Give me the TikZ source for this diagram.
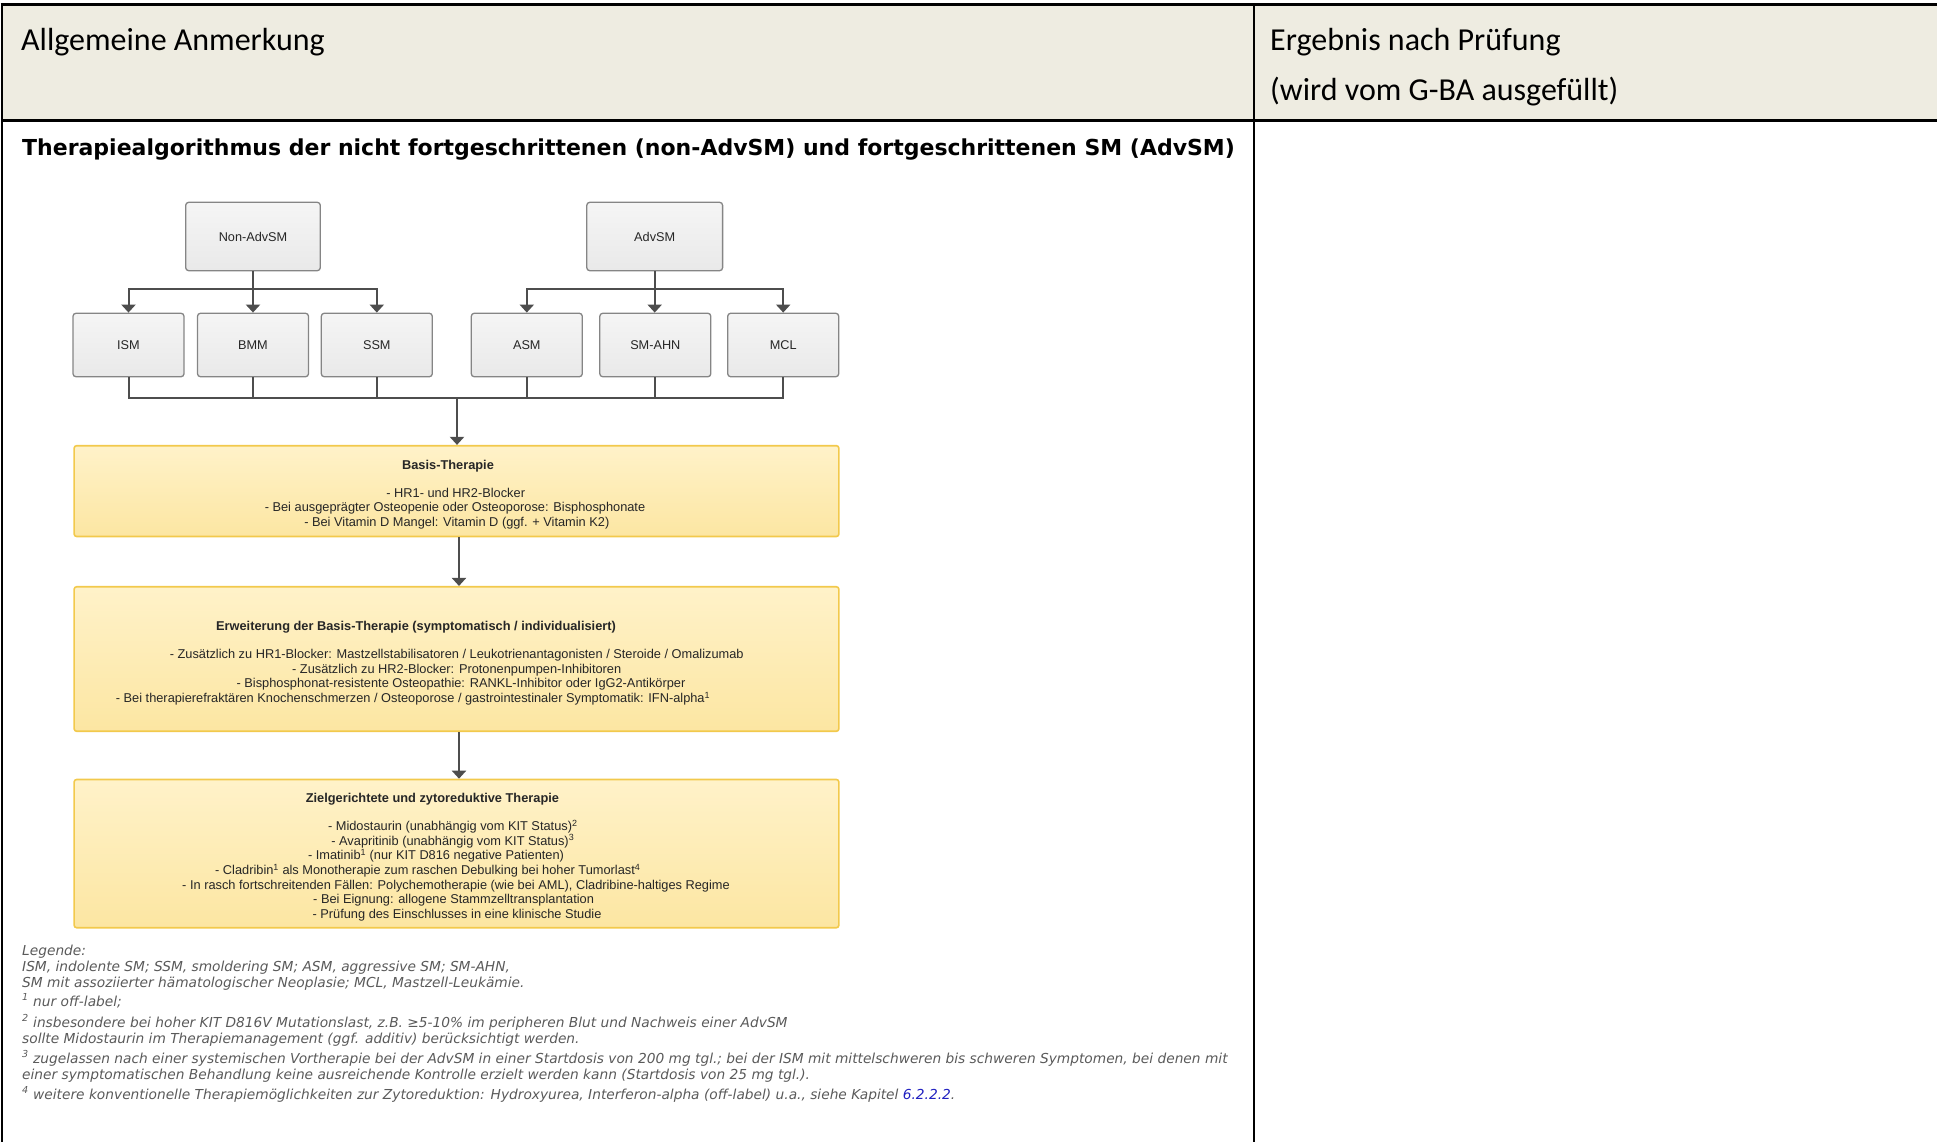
\documentclass[tikz,border=0pt]{standalone}
\usepackage{fontspec}
\setmainfont{Carlito}
\newfontfamily\arialf{Liberation Sans}
\newfontfamily\dvs{DejaVu Sans}
\usetikzlibrary{arrows.meta}
\definecolor{hdr}{HTML}{EEECE1}
\definecolor{gborder}{HTML}{858585}
\definecolor{gtop}{HTML}{F5F5F5}
\definecolor{gbot}{HTML}{E9E9E9}
\definecolor{yborder}{HTML}{F2C94C}
\definecolor{ytop}{HTML}{FFF2C9}
\definecolor{ybot}{HTML}{FCE6A2}
\definecolor{cline}{HTML}{4D4D4D}
\definecolor{txtdark}{HTML}{262626}
\definecolor{leggray}{HTML}{5A5A5A}
\definecolor{linkblue}{HTML}{2020C0}
\tikzset{
 gbox/.style={draw=gborder, line width=1.3pt, rounded corners=3pt, top color=gtop, bottom color=gbot, minimum width=111pt, minimum height=63.5pt, inner sep=0pt, font=\arialf\fontsize{12.7}{15}\selectfont, text=txtdark},
 ybox/.style={draw=yborder, line width=1.6pt, rounded corners=2.5pt, top color=ytop, bottom color=ybot, minimum width=764.7pt, inner sep=0pt},
 conn/.style={draw=cline, line width=2pt, -{Triangle[width=14pt,length=8pt]}},
 busline/.style={draw=cline, line width=2pt},
 ftxt/.style={font=\arialf\fontsize{12.8}{15}\selectfont, text=txtdark, anchor=base, inner sep=0pt},
 fttl/.style={ftxt, font=\arialf\bfseries\fontsize{12.8}{15}\selectfont},
 legtxt/.style={font=\dvs\itshape\fontsize{13.75}{16}\selectfont, text=leggray, anchor=base west, inner sep=0pt},
 hdrtxt/.style={font=\fontsize{32}{38}\selectfont, text=black, anchor=base west, inner sep=0pt},
}
\begin{document}
\begin{tikzpicture}[x=1pt,y=-1pt]
\useasboundingbox (0,0) rectangle (1937,1142);
% table
\fill[hdr] (2,4.5) rectangle (1937,120.5);
\draw[line width=3pt] (0.5,4.5) -- (1937,4.5);
\draw[line width=3pt] (2,120.5) -- (1937,120.5);
\draw[line width=2.5pt] (2,3) -- (2,1142);
\draw[line width=1.5pt] (1254,4.5) -- (1254,1142);
\node[hdrtxt] (h1) at (21,50.5) {Allgemeine Anmerkung};
\node[hdrtxt] (h2) at (1270,51) {Ergebnis nach Prüfung};
\node[hdrtxt] (h3) at (1270,101) {(wird vom G-BA ausgefüllt)};
\node[font=\dvs\bfseries\fontsize{22}{26}\selectfont, anchor=base west, inner sep=0pt] (title) at (22,156) {Therapiealgorithmus der nicht fortgeschrittenen (non-AdvSM) und fortgeschrittenen SM (AdvSM)};
% top boxes
\node[gbox, minimum width=134.6pt, minimum height=68.4pt] (nonadv) at (253,236.5) {Non-AdvSM};
\node[gbox, minimum width=135.8pt, minimum height=68.4pt] (adv) at (654.7,236.5) {AdvSM};
\node[gbox] (ism) at (128.5,345) {ISM};
\node[gbox] (bmm) at (253,345) {BMM};
\node[gbox] (ssm) at (376.8,345) {SSM};
\node[gbox] (asm) at (526.8,345) {ASM};
\node[gbox] (smahn) at (655.3,345) {SM-AHN};
\node[gbox] (mcl) at (783.2,345) {MCL};
\coordinate (nb) at (253,288.5);
\coordinate (ab) at (654.7,288.5);
\draw[conn] (nonadv.south) -- (bmm.north);
\draw[conn] (nb) -| (ism.north);
\draw[conn] (nb) -| (ssm.north);
\draw[conn] (adv.south) -- (adv.south |- smahn.north);
\draw[conn] (ab) -| (asm.north);
\draw[conn] (ab) -| (mcl.north);
% bus
\coordinate (bus) at (457,397.8);
\draw[busline] (ism.south) |- (mcl.south |- bus) -- (mcl.south);
\draw[busline] (bmm.south) -- (bmm.south |- bus);
\draw[busline] (ssm.south) -- (ssm.south |- bus);
\draw[busline] (asm.south) -- (asm.south |- bus);
\draw[busline] (smahn.south) -- (smahn.south |- bus);
% yellow boxes
\node[ybox, minimum height=90.8pt] (basis) at (456.5,491.1) {};
\node[ybox, minimum height=144.5pt] (erw) at (456.5,659) {};
\node[ybox, minimum height=148.2pt] (ziel) at (456.5,853.6) {};
\draw[conn] (bus) -- (bus |- basis.north);
\draw[conn] ([xshift=2.5pt]basis.south) -- ([xshift=2.5pt]erw.north);
\draw[conn] ([xshift=2.5pt]erw.south) -- ([xshift=2.5pt]ziel.north);
% basis text
\node[fttl] (bt) at (448,469) {Basis-Therapie};
\node[ftxt] (b1) at (455.7,497) {- HR1- und HR2-Blocker};
\node[ftxt] (b2) at (455,511.5) {- Bei ausgeprägter Osteopenie oder Osteoporose: Bisphosphonate};
\node[ftxt] (b3) at (456.8,526) {- Bei Vitamin D Mangel: Vitamin D (ggf. + Vitamin K2)};
% erweiterung text
\node[fttl] (et) at (416,630.5) {Erweiterung der Basis-Therapie (symptomatisch / individualisiert)};
\node[ftxt] (e1) at (456.7,658.5) {- Zusätzlich zu HR1-Blocker: Mastzellstabilisatoren / Leukotrienantagonisten / Steroide / Omalizumab};
\node[ftxt] (e2) at (456.7,673) {- Zusätzlich zu HR2-Blocker: Protonenpumpen-Inhibitoren};
\node[ftxt] (e3) at (461,687.7) {- Bisphosphonat-resistente Osteopathie: RANKL-Inhibitor oder IgG2-Antikörper};
\node[ftxt] (e4) at (413,702.5) {- Bei therapierefraktären Knochenschmerzen / Osteoporose / gastrointestinaler Symptomatik: IFN-alpha\textsuperscript{1}};
% ziel text
\node[fttl] (zt) at (432.4,802) {Zielgerichtete und zytoreduktive Therapie};
\node[ftxt] (z1) at (452.8,830.5) {- Midostaurin (unabhängig vom KIT Status)\textsuperscript{2}};
\node[ftxt] (z2) at (452.8,845.2) {- Avapritinib (unabhängig vom KIT Status)\textsuperscript{3}};
\node[ftxt] (z3) at (436,859.8) {- Imatinib\textsuperscript{1} (nur KIT D816 negative Patienten)};
\node[ftxt] (z4) at (427.8,874.5) {- Cladribin\textsuperscript{1} als Monotherapie zum raschen Debulking bei hoher Tumorlast\textsuperscript{4}};
\node[ftxt] (z5) at (456,889.1) {- In rasch fortschreitenden Fällen: Polychemotherapie (wie bei AML), Cladribine-haltiges Regime};
\node[ftxt] (z6) at (453.6,903.8) {- Bei Eignung: allogene Stammzelltransplantation};
\node[ftxt] (z7) at (457,918.4) {- Prüfung des Einschlusses in eine klinische Studie};
% legend
\node[legtxt] (l1) at (22,955.5) {Legende:};
\node[legtxt] (l2) at (22,971.5) {ISM, indolente SM; SSM, smoldering SM; ASM, aggressive SM; SM-AHN,};
\node[legtxt] (l3) at (22,987.5) {SM mit assoziierter hämatologischer Neoplasie; MCL, Mastzell-Leukämie.};
\node[legtxt] (l4) at (22,1006) {\textsuperscript{1} nur off-label;};
\node[legtxt] (l5) at (22,1027) {\textsuperscript{2} insbesondere bei hoher KIT D816V Mutationslast, z.B. ≥5-10\% im peripheren Blut und Nachweis einer AdvSM};
\node[legtxt] (l6) at (22,1043) {sollte Midostaurin im Therapiemanagement (ggf. additiv) berücksichtigt werden.};
\node[legtxt] (l7) at (22,1063) {\textsuperscript{3} zugelassen nach einer systemischen Vortherapie bei der AdvSM in einer Startdosis von 200 mg tgl.; bei der ISM mit mittelschweren bis schweren Symptomen, bei denen mit};
\node[legtxt] (l8) at (22,1079) {einer symptomatischen Behandlung keine ausreichende Kontrolle erzielt werden kann (Startdosis von 25 mg tgl.).};
\node[legtxt] (l9) at (22,1099) {\textsuperscript{4} weitere konventionelle Therapiemöglichkeiten zur Zytoreduktion: Hydroxyurea, Interferon-alpha (off-label) u.a., siehe Kapitel \textcolor{linkblue}{6.2.2.2}.};
\end{tikzpicture}
\end{document}
